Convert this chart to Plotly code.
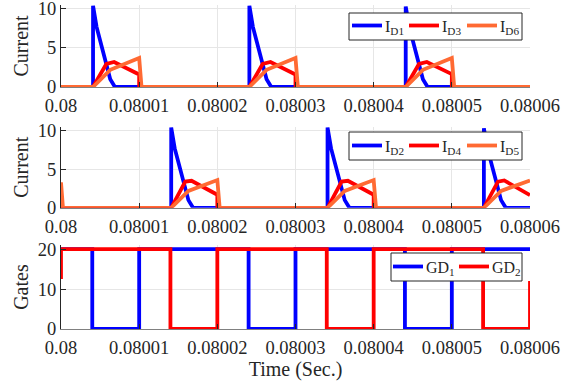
import plotly.graph_objects as go

# ---- data (time in microseconds after t = 0.08 s) ----
t_id1 = [0, 4.1, 4.1, 4.55, 6.3, 6.9, 24.1, 24.1, 24.55, 26.3, 26.9, 44.1, 44.1, 44.55, 46.3, 46.9, 60]
v_id1 = [0, 0, 10.4, 7.7, 1.0, 0, 0, 10.4, 7.7, 1.0, 0, 0, 10.3, 7.7, 1.0, 0, 0]

t_id3 = [0, 4.1, 5.8, 6.8, 10.0, 10.0, 24.1, 25.8, 26.8, 30.0, 30.0, 44.1, 45.8, 46.8, 50.0, 50.0, 60]
v_id3 = [0, 0, 2.95, 3.2, 1.6, 0, 0, 2.95, 3.2, 1.6, 0, 0, 2.95, 3.2, 1.65, 0, 0]

t_id6 = [0, 4.1, 6.3, 10.0, 10.3, 24.1, 26.3, 30.0, 30.3, 44.1, 46.3, 50.0, 50.3, 60]
v_id6 = [0, 0, 2.2, 3.7, 0, 0, 2.2, 3.7, 0, 0, 2.2, 3.7, 0, 0]

t_id2 = [0, 14.1, 14.1, 14.55, 16.3, 16.9, 34.1, 34.1, 34.55, 36.3, 36.9, 54.1, 54.1, 54.55, 56.3, 56.9, 60]
v_id2 = [0, 0, 10.4, 7.7, 1.0, 0, 0, 10.4, 7.7, 1.0, 0, 0, 10.3, 7.7, 1.0, 0, 0]

t_id4 = [0, 0, 14.1, 15.9, 16.7, 20.0, 20.0, 34.1, 35.9, 36.7, 40.0, 40.0, 54.1, 55.9, 56.7, 60]
v_id4 = [1.3, 0, 0, 3.4, 3.5, 1.7, 0, 0, 3.4, 3.5, 1.7, 0, 0, 3.4, 3.55, 1.65]

t_id5 = [0, 0.25, 14.1, 16.3, 20.0, 20.3, 34.1, 36.3, 40.0, 40.3, 54.1, 56.3, 60]
v_id5 = [3.3, 0, 0, 2.2, 3.6, 0, 0, 2.2, 3.6, 0, 0, 2.2, 3.55]

t_gd1 = [0, 4.0, 4.0, 10.0, 10.0, 24.0, 24.0, 30.0, 30.0, 44.0, 44.0, 50.0, 50.0, 60]
v_gd1 = [20, 20, 0, 0, 20, 20, 0, 0, 20, 20, 0, 0, 20, 20]

t_gd2 = [0, 0, 14.0, 14.0, 20.0, 20.0, 34.0, 34.0, 40.0, 40.0, 54.0, 54.0, 60, 60]
v_gd2 = [12.5, 20, 20, 0, 0, 20, 20, 0, 0, 20, 20, 0, 0, 12]

x_tickvals = [0, 10, 20, 30, 40, 50, 60]
x_ticklabels = ["0.08", "0.08001", "0.08002", "0.08003", "0.08004", "0.08005", "0.08006"]

legend1_names = ["I<sub>D1</sub>", "I<sub>D3</sub>", "I<sub>D6</sub>"]
legend2_names = ["I<sub>D2</sub>", "I<sub>D4</sub>", "I<sub>D5</sub>"]
legend3_names = ["GD<sub>1</sub>", "GD<sub>2</sub>"]

BLUE = "#0000FF"
RED = "#FF0000"
ORANGE = "#FF6A33"
FONT = "Liberation Serif, Times New Roman, serif"
TXT = "#262626"
LW = 3.8

W, H = 581, 381
ML, MR, MT, MB = 61, 51, 5, 52
PW, PH = W - ML - MR, H - MT - MB

fig = go.Figure()

def add(t, v, name, color, xa, ya):
    fig.add_trace(go.Scatter(x=t, y=v, mode="lines", name=name, showlegend=False,
                             line=dict(color=color, width=LW),
                             xaxis=xa, yaxis=ya))

add(t_id1, v_id1, legend1_names[0], BLUE, "x", "y")
add(t_id3, v_id3, legend1_names[1], RED, "x", "y")
add(t_id6, v_id6, legend1_names[2], ORANGE, "x", "y")
add(t_id2, v_id2, legend2_names[0], BLUE, "x2", "y2")
add(t_id4, v_id4, legend2_names[1], RED, "x2", "y2")
add(t_id5, v_id5, legend2_names[2], ORANGE, "x2", "y2")
add(t_gd1, v_gd1, legend3_names[0], BLUE, "x3", "y3")
add(t_gd2, v_gd2, legend3_names[1], RED, "x3", "y3")

tickfont = dict(family=FONT, size=18.5, color=TXT)
titlefont = dict(family=FONT, size=20, color=TXT)
xcommon = dict(range=[0, 60], tickmode="array", tickvals=x_tickvals, ticktext=x_ticklabels,
               showgrid=True, gridcolor="#E6E6E6", gridwidth=1, zeroline=False,
               showline=True, linecolor="#808080", linewidth=1,
               ticks="inside", ticklen=5, tickcolor=TXT,
               tickfont=tickfont, ticklabelstandoff=2, automargin=False,
               ticklabeloverflow="allow")
ycommon = dict(showgrid=True, gridcolor="#E6E6E6", gridwidth=1, zeroline=False,
               showline=True, linecolor=TXT, linewidth=1,
               ticks="inside", ticklen=5, tickcolor=TXT,
               tickfont=tickfont, automargin=False, ticklabeloverflow="allow")

doms = {"1": [0.747, 1.0], "2": [0.374, 0.624], "3": [0.0, 0.259]}

fig.update_layout(
    width=W, height=H,
    margin=dict(l=ML, r=MR, t=MT, b=MB),
    plot_bgcolor="white", paper_bgcolor="white",
    font=dict(family=FONT, size=18, color=TXT),
    showlegend=False,
    xaxis=dict(**xcommon, anchor="y"),
    xaxis2=dict(**xcommon, anchor="y2"),
    xaxis3=dict(**xcommon, anchor="y3",
                title=dict(text="Time (Sec.)", font=titlefont, standoff=0)),
    yaxis=dict(**ycommon, domain=doms["1"], range=[0, 10.5], tickvals=[0, 5, 10], anchor="x",
               title=dict(text="Current", font=titlefont, standoff=3)),
    yaxis2=dict(**ycommon, domain=doms["2"], range=[0, 10.5], tickvals=[0, 5, 10], anchor="x2",
                title=dict(text="Current", font=titlefont, standoff=3)),
    yaxis3=dict(**ycommon, domain=doms["3"], range=[0, 21], tickvals=[0, 10, 20], anchor="x3",
                title=dict(text="Gates", font=titlefont, standoff=3)),
)

# ---- hand-built legends (MATLAB style: short line, text right after) ----
def px(x):
    return (x - ML) / PW

def py(y):
    return (MT + PH - y) / PH

shapes, annots = [], []

def legend_box(x0, y0, x1, y1, entries_x, yc, names, colors):
    shapes.append(dict(type="rect", xref="paper", yref="paper", layer="above",
                       x0=px(x0), x1=px(x1), y0=py(y1), y1=py(y0),
                       fillcolor="white", line=dict(color=TXT, width=1)))
    for ex, name, col in zip(entries_x, names, colors):
        shapes.append(dict(type="line", xref="paper", yref="paper", layer="above",
                           x0=px(ex), x1=px(ex + 30), y0=py(yc), y1=py(yc),
                           line=dict(color=col, width=LW)))
        annots.append(dict(xref="paper", yref="paper", x=px(ex + 31), y=py(yc + 2),
                           xanchor="left", yanchor="middle", showarrow=False,
                           text=name, font=dict(family=FONT, size=16, color=TXT)))

legend_box(349, 13, 522, 40, [352, 409, 467], 25.5, legend1_names, [BLUE, RED, ORANGE])
legend_box(349, 132, 522, 160, [352, 409, 467], 145.5, legend2_names, [BLUE, RED, ORANGE])
legend_box(391, 253, 522, 281, [393, 459], 266.5, legend3_names, [BLUE, RED])

fig.update_layout(shapes=shapes, annotations=annots)

fig.write_html("out.html", config={"displayModeBar": False},
               post_script="document.body.style.margin='0';document.body.style.padding='0';")
